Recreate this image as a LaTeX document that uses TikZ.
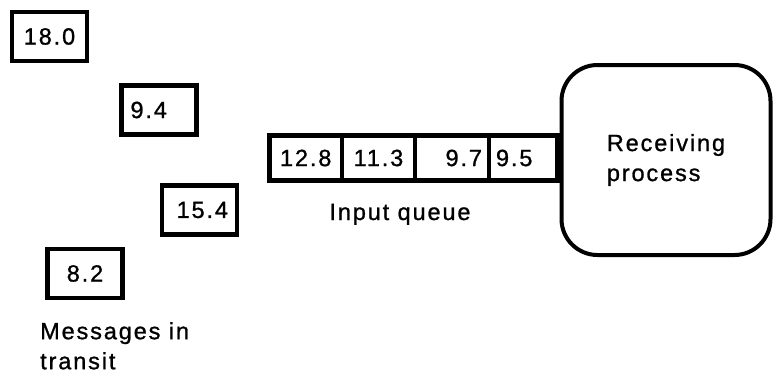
\documentclass[tikz,border=0pt]{standalone}
\usepackage{fontspec}
\setmainfont{Liberation Sans}[LetterSpace=8,FakeBold=1]
\usetikzlibrary{positioning}
\tikzset{msg/.style={draw, line width=4.5pt, minimum height=49pt, text width=57pt, inner xsep=9pt, inner ysep=0pt},
cell/.style={draw, line width=3.5pt, minimum height=45pt, inner xsep=7pt, inner ysep=0pt, outer sep=0pt},
%rounded box of the process
proc/.style={draw, line width=4pt, rounded corners=36pt, minimum width=209pt, minimum height=190pt, align=left}}

\begin{document}
\begin{tikzpicture}[x=1pt,y=-1pt,font=\fontsize{23.5}{30}\selectfont]
\useasboundingbox (0,0) rectangle (774,375);
% messages in transit
\node[msg,align=center] (m18) at (49.5,36.5) {18.0};
\node[msg,align=left] (m94) at (159,110) {9.4};
\node[msg,align=right] (m154) at (199.5,210) {15.4};
\node[msg,align=center] (m82) at (85,273.5) {8.2};
\node[anchor=north west,inner sep=0pt,align=left] (transit) at (40,322) {Messages in\\transit};

% input queue
\node[cell,text width=58.5pt,align=center] (q1) at (305.75,158) {12.8};
\node[cell,text width=59pt,align=center,right=0pt of q1] (q2) {11.3};
\node[cell,text width=60pt,align=right,right=0pt of q2] (q3) {9.7};
\node[cell,text width=54.5pt,align=left,right=0pt of q3] (q4) {9.5};
\draw[line width=5pt] (q1.north west) rectangle (q4.south east);
\node[anchor=base] (qlabel) at (400,220) {Input queue};

\node[proc] (recv) at (666,160) {Receiving\\process};
\draw[line width=5pt] (q4.north east) -- (q4.north east -| recv.west);
\draw[line width=5pt] (q4.south east) -- (q4.south east -| recv.west);

\end{tikzpicture}
\end{document}
